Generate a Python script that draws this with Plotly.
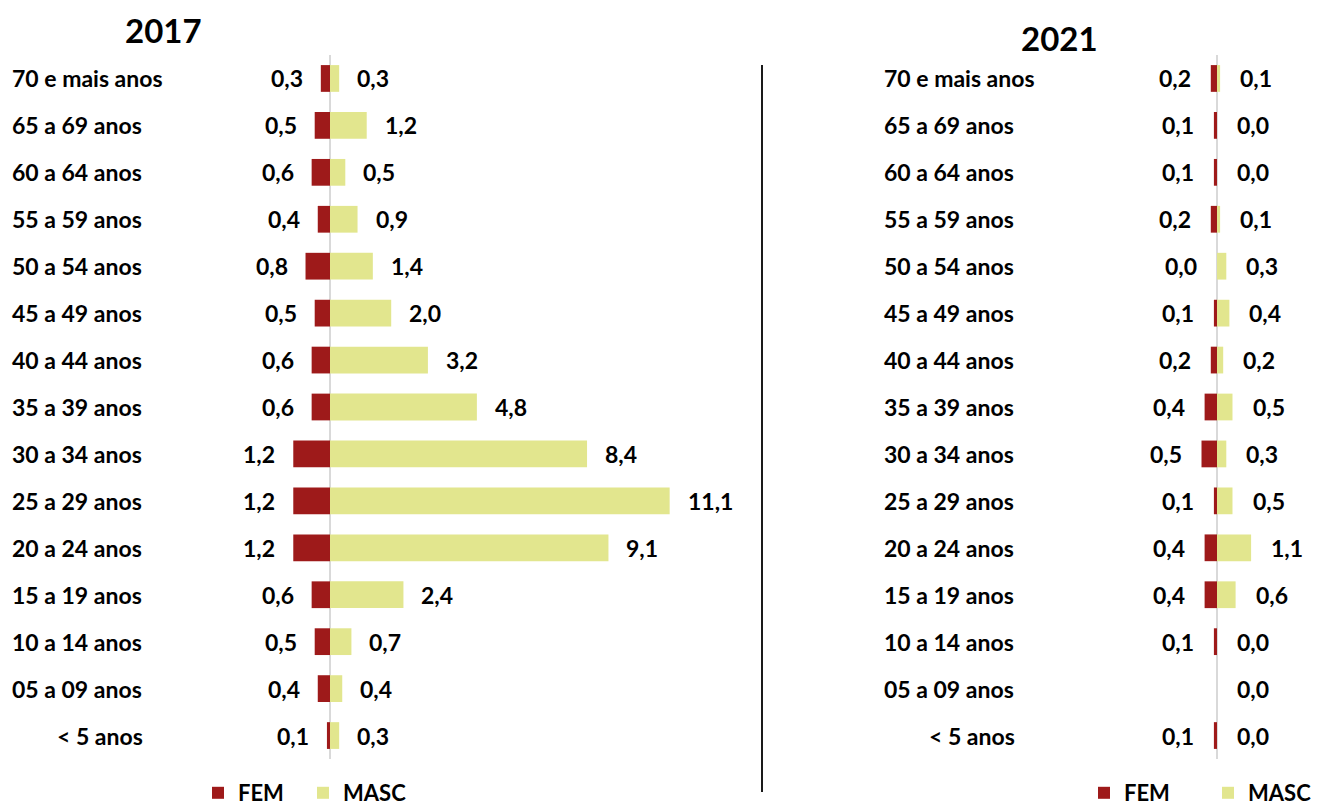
import plotly.graph_objects as go

# Age groups, top to bottom
age_groups = ["70 e mais anos", "65 a 69 anos", "60 a 64 anos", "55 a 59 anos",
              "50 a 54 anos", "45 a 49 anos", "40 a 44 anos", "35 a 39 anos",
              "30 a 34 anos", "25 a 29 anos", "20 a 24 anos", "15 a 19 anos",
              "10 a 14 anos", "05 a 09 anos", "< 5 anos"]

fem_2017 = [0.3, 0.5, 0.6, 0.4, 0.8, 0.5, 0.6, 0.6, 1.2, 1.2, 1.2, 0.6, 0.5, 0.4, 0.1]
masc_2017 = [0.3, 1.2, 0.5, 0.9, 1.4, 2.0, 3.2, 4.8, 8.4, 11.1, 9.1, 2.4, 0.7, 0.4, 0.3]

fem_2021 = [0.2, 0.1, 0.1, 0.2, 0.0, 0.1, 0.2, 0.4, 0.5, 0.1, 0.4, 0.4, 0.1, None, 0.1]
masc_2021 = [0.1, 0.0, 0.0, 0.1, 0.3, 0.4, 0.2, 0.5, 0.3, 0.5, 1.1, 0.6, 0.0, 0.0, 0.0]

years = ["2017", "2021"]
series_names = ["FEM", "MASC"]

FEM_COLOR = "#9E1A1A"
MASC_COLOR = "#E2E68E"
FONT = "Lato"
W, H = 1325, 808


def fmt(v):
    return f"{v:.1f}".replace(".", ",")


def px_x(p):
    return p / W


def px_y(p):
    return 1 - p / H


fig = go.Figure()

panels = [
    dict(fem=fem_2017, masc=masc_2017, xa="x", ya="y", legend="legend"),
    dict(fem=fem_2021, masc=masc_2021, xa="x2", ya="y2", legend="legend2"),
]

for p in panels:
    fig.add_trace(go.Bar(
        y=age_groups, x=[None if v is None else -v for v in p["fem"]],
        orientation="h", name=series_names[0], marker_color=FEM_COLOR,
        marker_line_width=0, xaxis=p["xa"], yaxis=p["ya"], legend=p["legend"],
        hoverinfo="skip"))
    fig.add_trace(go.Bar(
        y=age_groups, x=p["masc"],
        orientation="h", name=series_names[1], marker_color=MASC_COLOR,
        marker_line_width=0, xaxis=p["xa"], yaxis=p["ya"], legend=p["legend"],
        hoverinfo="skip"))

label_font = dict(family=FONT, size=23, color="black", weight="bold")

annotations = []
# value labels beside each bar
for p, shift in zip(panels, [16, 18]):
    for age, f, m in zip(age_groups, p["fem"], p["masc"]):
        if f is not None:
            annotations.append(dict(x=-f, y=age, xref=p["xa"], yref=p["ya"],
                                    text=fmt(f), showarrow=False, xanchor="right",
                                    xshift=-shift, font=label_font))
        if m is not None:
            annotations.append(dict(x=m, y=age, xref=p["xa"], yref=p["ya"],
                                    text=fmt(m), showarrow=False, xanchor="left",
                                    xshift=shift, font=label_font))

# category labels on the left of each panel
for ya, left, right in [("y", 10, 145), ("y2", 882, 1017)]:
    for age in age_groups:
        if age.startswith("<"):
            annotations.append(dict(x=px_x(right), y=age, xref="paper", yref=ya,
                                    text=age, showarrow=False, xanchor="right",
                                    font=label_font))
        else:
            annotations.append(dict(x=px_x(left), y=age, xref="paper", yref=ya,
                                    text=age, showarrow=False, xanchor="left",
                                    font=label_font))

# panel titles
for year, cx, cy in [(years[0], 163, 30), (years[1], 1059, 38)]:
    annotations.append(dict(x=px_x(cx), y=px_y(cy), xref="paper", yref="paper",
                            text=year, showarrow=False, xanchor="center", yanchor="middle",
                            font=dict(family=FONT, size=33, color="black", weight="bold")))

shapes = [
    dict(type="line", xref="x", yref="y domain", x0=0, x1=0, y0=0, y1=1,
         line=dict(color="#D9D9D9", width=2), layer="below"),
    dict(type="line", xref="x2", yref="y2 domain", x0=0, x1=0, y0=0, y1=1,
         line=dict(color="#D9D9D9", width=2), layer="below"),
    dict(type="line", xref="paper", yref="paper", x0=px_x(762), x1=px_x(762),
         y0=px_y(792), y1=px_y(65), line=dict(color="#1A1A1A", width=2)),
]

y_dom = [px_y(759), px_y(55)]
axis_common = dict(showgrid=False, zeroline=False, showticklabels=False,
                   showline=False, ticks="", fixedrange=True)

scale_l = 30.6
scale_r = 31.0
legend_font = dict(family=FONT, size=22, color="black", weight="bold")
fig.update_layout(
    width=W, height=H,
    margin=dict(l=0, r=0, t=0, b=0, autoexpand=False),
    paper_bgcolor="white", plot_bgcolor="white",
    barmode="overlay", bargap=0.43,
    font=dict(family=FONT, size=23, color="black"),
    xaxis=dict(domain=[px_x(180), px_x(740)],
               range=[-(330 - 180) / scale_l, (740 - 330) / scale_l], **axis_common),
    yaxis=dict(domain=y_dom, categoryorder="array", categoryarray=age_groups,
               autorange="reversed", **axis_common),
    xaxis2=dict(domain=[px_x(1050), px_x(1320)], anchor="y2",
                range=[-(1217 - 1050) / scale_r, (1320 - 1217) / scale_r], **axis_common),
    yaxis2=dict(domain=y_dom, anchor="x2", categoryorder="array", categoryarray=age_groups,
                autorange="reversed", **axis_common),
    legend=dict(orientation="h", x=px_x(198), y=px_y(793), xanchor="left", yanchor="middle",
                entrywidth=60, font=legend_font,
                bgcolor="rgba(0,0,0,0)", itemclick=False, itemdoubleclick=False),
    legend2=dict(orientation="h", x=px_x(1084), y=px_y(793), xanchor="left", yanchor="middle",
                 entrywidth=79, font=legend_font,
                 bgcolor="rgba(0,0,0,0)", itemclick=False, itemdoubleclick=False),
    annotations=annotations,
    shapes=shapes,
    showlegend=True,
)

fig.write_html("out.html")
